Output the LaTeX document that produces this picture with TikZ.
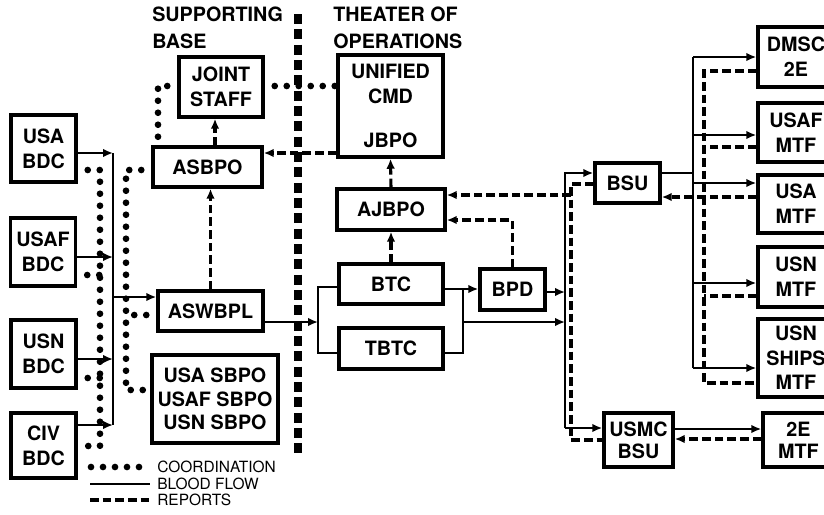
\documentclass[tikz,border=0pt]{standalone}
\usepackage{fontspec}
\setmainfont{TeX Gyre Heros}
\usetikzlibrary{arrows.meta}
\begin{document}
\begin{tikzpicture}[x=0.75pt,y=-0.75pt,
  box/.style={draw, line width=2.6pt, font=\bfseries\fontsize{14.8}{18.5}\selectfont, align=center, inner sep=0pt},
  sz/.style 2 args={minimum width=#1*0.75pt, minimum height=#2*0.75pt},
  flow/.style={line width=1.9pt},
  rep/.style={line width=2.3pt, dash pattern=on 6.5pt off 3pt},
  coordline/.style={line width=5pt, dash pattern=on 0pt off 9pt, dash phase=1.5pt, line cap=round},
  divider/.style={line width=5.5pt, dash pattern=on 7.5pt off 4pt},
  arr/.style={-{Latex[length=7.5pt,width=6.5pt]}},
  hdr/.style={font=\bfseries\fontsize{14.8}{20}\selectfont, align=left, inner sep=0pt, anchor=north west},
  legtxt/.style={font=\fontsize{11.6}{13}\selectfont, inner sep=0pt, anchor=west}
]
\clip (0,0) rectangle (824,514);

% headings
\node[hdr] (hsb) at (152,7) {SUPPORTING\\BASE};
\node[hdr] (hto) at (333,7) {THEATER OF\\OPERATIONS};

% boxes
\node[box,sz={65}{67}] (usabdc) at (43.5,148.5) {USA\\BDC};
\node[box,sz={65}{68}] (usafbdc) at (43,252) {USAF\\BDC};
\node[box,sz={65}{68}] (usnbdc) at (43.5,354) {USN\\BDC};
\node[box,sz={65}{65}] (civbdc) at (43.5,445.5) {CIV\\BDC};
\node[box,sz={109}{40}] (asbpo) at (207.5,167) {ASBPO};
\node[box,sz={105}{40}] (aswbpl) at (210.5,311) {ASWBPL};
\node[box,sz={126}{88},font=\bfseries\fontsize{14.8}{17.6}\selectfont] (sbpo) at (215,399) {USA SBPO\\USAF SBPO\\USN SBPO};
\node[box,sz={84}{60}] (jstaff) at (221,87) {JOINT\\STAFF};
\node[box,sz={105}{102}] (ucmd) at (390.5,106) {UNIFIED\\CMD\\[15pt]JBPO};
\node[box,sz={108}{41}] (ajbpo) at (391,209.5) {AJBPO};
\node[box,sz={104}{40}] (btc) at (391,284) {BTC};
\node[box,sz={104}{41}] (tbtc) at (391,348.5) {TBTC};
\node[box,sz={65}{41}] (bpd) at (512.5,289.5) {BPD};
\node[box,sz={65}{40}] (bsu) at (627.5,183) {BSU};
\node[box,sz={69}{54},font=\bfseries\fontsize{14.8}{16.5}\selectfont] (usmc) at (638.5,440) {USMC\\BSU};
\node[box,sz={76}{60}] (dmsc) at (796,57) {DMSC\\2E};
\node[box,sz={76}{59}] (usafmtf) at (796,132.5) {USAF\\MTF};
\node[box,sz={76}{58}] (usamtf) at (796,204) {USA\\MTF};
\node[box,sz={76}{60}] (usnmtf) at (796,277) {USN\\MTF};
\node[box,sz={76}{78}] (ships) at (796,358) {USN\\SHIPS\\MTF};
\node[box,sz={71}{54},font=\bfseries\fontsize{14.8}{16.5}\selectfont] (e2mtf) at (798.5,440) {2E\\MTF};

% divider
\coordinate (dvT) at (298,14);
\coordinate (dvB) at (298,458);
\draw[divider] (dvT) -- (dvB);

% left blood bus
\coordinate (bus1) at (113,153);
\coordinate (bus4) at (113,425);
\draw[flow] (bus1) -- (bus4);
\draw[flow,arr] (usabdc.east |- bus1) -- (bus1);
\draw[flow,arr] (usafbdc.east |- 0,257) -- (bus1 |- 0,257);
\draw[flow,arr] (usnbdc.east |- 0,359) -- (bus1 |- 0,359);
\draw[flow,arr] (civbdc.east |- bus4) -- (bus4);
\draw[flow,arr] (bus1 |- 0,297) -- (aswbpl.west |- 0,297);

% coordination
\coordinate (cl1) at (100,170);
\coordinate (cl2) at (100,446);
\draw[coordline] (usabdc.east |- cl1) -- (cl1) -- (cl2) -- (civbdc.east |- cl2);
\draw[coordline] (usafbdc.east |- 0,275) -- (cl1 |- 0,275);
\draw[coordline] (usnbdc.east |- 0,378) -- (cl1 |- 0,378);
\coordinate (cr1) at (126,170);
\coordinate (cr2) at (126,390);
\draw[coordline] (asbpo.west |- cr1) -- (cr1) -- (cr2) -- (sbpo.west |- cr2);
\draw[coordline] (aswbpl.west |- 0,315) -- (cr1 |- 0,315);
\coordinate (cj1) at (158,86);
\coordinate (cj2) at (158,140);
\draw[coordline] (jstaff.west |- cj1) -- (cj1) -- (cj2);
\draw[coordline] (jstaff.east |- cj1) -- (ucmd.west |- cj1);

% reports (dashed)
\draw[rep,arr] (aswbpl.north) -- (aswbpl.north |- asbpo.south);
\draw[rep,arr] (asbpo.north -| 215,0) -- (jstaff.south -| 215,0);
\draw[rep,arr] (ucmd.west |- 0,153) -- (asbpo.east |- 0,153);
\draw[rep,arr] (ajbpo.north) -- (ucmd.south);
\draw[rep,arr] (btc.north) -- (ajbpo.south);
\draw[rep,arr] (bpd.north) -- (bpd.north |- 0,220) -- (ajbpo.east |- 0,220);

% middle blood flow
\coordinate (jLt) at (318,287);
\coordinate (jLm) at (318,322);
\coordinate (jLb) at (318,353);
\draw[flow,arr] (aswbpl.east |- jLm) -- (jLm);
\draw[flow] (btc.west |- jLt) -- (jLt) -- (jLb) -- (tbtc.west |- jLb);
\coordinate (jRt) at (463,289);
\coordinate (jRm) at (463,322);
\coordinate (jRb) at (463,353);
\draw[flow] (btc.east |- jRt) -- (jRt) -- (jRb) -- (tbtc.east |- jRb);
\draw[flow,arr] (jRt) -- (bpd.west |- jRt);

% main right bus
\coordinate (mbT) at (565,173);
\coordinate (mbB) at (565,428);
\draw[flow,arr] (jRm) -- (mbB |- jRm);
\draw[flow,arr] (bpd.east |- 0,292) -- (mbB |- 0,292);
\draw[flow,arr] (mbB) -- (mbT) -- (bsu.west |- mbT);
\draw[flow,arr] (mbB) -- (usmc.west |- mbB);
\coordinate (dbT) at (571,184);
\coordinate (dbB) at (571,440);
\draw[rep] (bsu.west |- dbT) -- (dbT) -- (dbB) -- (usmc.west |- dbB);
\draw[rep,arr] (dbT |- 0,195) -- (ajbpo.east |- 0,195);

% BSU fan to MTFs
\coordinate (fT) at (693,57);
\coordinate (fB) at (693,368);
\draw[flow] (bsu.east |- 0,173) -- (fT |- 0,173);
\draw[flow] (fT) -- (fB);
\draw[flow,arr] (fT) -- (dmsc.west |- fT);
\draw[flow,arr] (fT |- 0,135) -- (usafmtf.west |- 0,135);
\draw[flow,arr] (fT |- 0,183) -- (usamtf.west |- 0,183);
\draw[flow,arr] (fT |- 0,283) -- (usnmtf.west |- 0,283);
\draw[flow,arr] (fB) -- (ships.west |- fB);
\coordinate (gT) at (704,71);
\coordinate (gB) at (704,383);
\draw[rep] (dmsc.west |- gT) -- (gT) -- (gB) -- (ships.west |- gB);
\draw[rep] (usafmtf.west |- 0,147) -- (gT |- 0,147);
\draw[rep,arr] (usamtf.west |- 0,197) -- (bsu.east |- 0,197);
\draw[rep] (usnmtf.west |- 0,296) -- (gT |- 0,296);

% USMC BSU to 2E MTF
\draw[flow,arr] (usmc.east |- 0,429) -- (e2mtf.west |- 0,429);
\draw[rep,arr] (e2mtf.west |- 0,439) -- (usmc.east |- 0,439);

% legend
\coordinate (lgA1) at (81,467);
\coordinate (lgA2) at (150,467);
\coordinate (lgB1) at (90,484);
\coordinate (lgB2) at (150,484);
\coordinate (lgC1) at (90,500);
\coordinate (lgC2) at (150,500);
\draw[coordline] (lgA1) -- (lgA2);
\draw[flow] (lgB1) -- (lgB2);
\draw[rep] (lgC1) -- (lgC2);
\node[legtxt] (lt1) at (157,467) {COORDINATION};
\node[legtxt] (lt2) at (157,484) {BLOOD FLOW};
\node[legtxt] (lt3) at (157,500) {REPORTS};
\end{tikzpicture}
\end{document}
